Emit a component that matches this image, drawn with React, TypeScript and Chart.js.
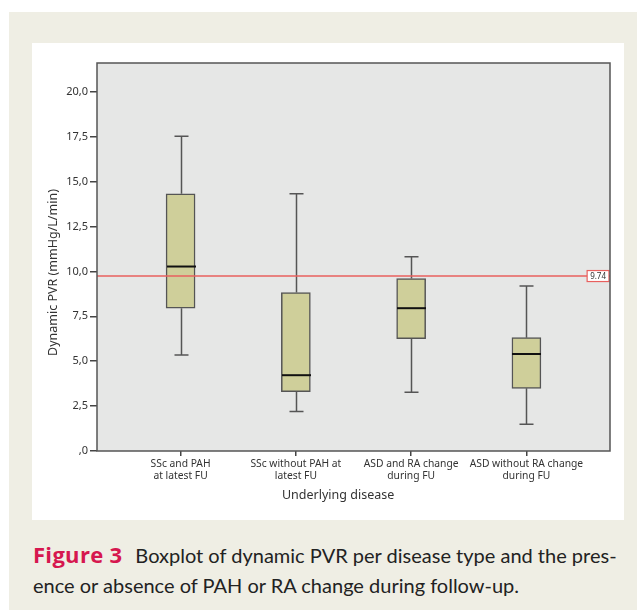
import React, { useEffect, useRef } from 'react';
import { Chart, registerables } from 'chart.js';

Chart.register(...registerables);

// ---- data ----
const categories: string[][] = [
  ['SSc and PAH', 'at latest FU'],
  ['SSc without PAH at', 'latest FU'],
  ['ASD and RA change', 'during FU'],
  ['ASD without RA change', 'during FU'],
];
const positions = [1, 2, 3, 4];
const whiskerLow = [5.35, 2.2, 3.27, 1.49];
const q1 = [7.95, 3.3, 6.26, 3.49];
const median = [10.27, 4.22, 7.95, 5.4];
const q3 = [14.32, 8.82, 9.6, 6.31];
const whiskerHigh = [17.52, 14.32, 10.82, 9.19];
const yTickValues = [0, 2.5, 5, 7.5, 10, 12.5, 15, 17.5, 20];
const referenceValue = 9.74;
const referenceLabel = '9.74';
const xTitle = 'Underlying disease';
const yTitle = 'Dynamic PVR (mmHg/L/min)';

const FONT = "'Noto Sans', sans-serif";
const TEXT = '#333333';

const extrasPlugin = {
  id: 'boxExtras',
  beforeDraw(chart: any) {
    const { ctx, chartArea: a } = chart;
    ctx.save();
    ctx.fillStyle = '#e6e7e6';
    ctx.fillRect(a.left, a.top, a.right - a.left, a.bottom - a.top);
    ctx.restore();
  },
  afterDatasetsDraw(chart: any) {
    const { ctx } = chart;
    const xs = chart.scales.x;
    const ys = chart.scales.y;
    const half = 14.5;
    const cap = 7;
    ctx.save();
    ctx.lineCap = 'butt';
    for (let i = 0; i < positions.length; i++) {
      const x = Math.round(xs.getPixelForValue(positions[i])) + 0.5;
      const yLo = ys.getPixelForValue(whiskerLow[i]);
      const yQ1 = ys.getPixelForValue(q1[i]);
      const yQ3 = ys.getPixelForValue(q3[i]);
      const yHi = ys.getPixelForValue(whiskerHigh[i]);
      const yMed = ys.getPixelForValue(median[i]);
      ctx.strokeStyle = '#555555';
      ctx.lineWidth = 1.5;
      ctx.beginPath();
      ctx.moveTo(x, yQ3);
      ctx.lineTo(x, yHi);
      ctx.moveTo(x - cap, yHi);
      ctx.lineTo(x + cap, yHi);
      ctx.moveTo(x, yQ1);
      ctx.lineTo(x, yLo);
      ctx.moveTo(x - cap, yLo);
      ctx.lineTo(x + cap, yLo);
      ctx.stroke();
      ctx.strokeStyle = '#111111';
      ctx.lineWidth = 2;
      ctx.beginPath();
      ctx.moveTo(x - half, yMed);
      ctx.lineTo(x + half, yMed);
      ctx.stroke();
    }
    // reference line
    const a = chart.chartArea;
    const yr = ys.getPixelForValue(referenceValue);
    ctx.strokeStyle = '#e8605e';
    ctx.lineWidth = 1.5;
    ctx.beginPath();
    ctx.moveTo(a.left, yr);
    ctx.lineTo(a.right, yr);
    ctx.stroke();
    // label
    ctx.font = `8px ${FONT}`;
    const tw = ctx.measureText(referenceLabel).width;
    const bw = tw + 6;
    const bh = 11;
    const bx = a.right - bw - 1;
    const by = yr - bh / 2;
    ctx.fillStyle = '#ffffff';
    ctx.fillRect(bx, by, bw, bh);
    ctx.strokeStyle = '#e8605e';
    ctx.lineWidth = 1.2;
    ctx.strokeRect(bx, by, bw, bh);
    ctx.fillStyle = '#333333';
    ctx.textAlign = 'center';
    ctx.textBaseline = 'middle';
    ctx.fillText(referenceLabel, bx + bw / 2, yr + 0.5);
    ctx.restore();
  },
  afterDraw(chart: any) {
    const { ctx, chartArea: a } = chart;
    ctx.save();
    ctx.strokeStyle = '#555555';
    ctx.lineWidth = 1.5;
    ctx.strokeRect(a.left, a.top, a.right - a.left, a.bottom - a.top);
    ctx.fillStyle = TEXT;
    ctx.font = `12.5px ${FONT}`;
    ctx.textAlign = 'center';
    ctx.textBaseline = 'middle';
    ctx.fillText(xTitle, a.left + (a.right - a.left) * 0.47, a.bottom + 44);
    ctx.translate(21.5, a.top + (a.bottom - a.top) * 0.54);
    ctx.rotate(-Math.PI / 2);
    ctx.fillText(yTitle, 0, 0);
    ctx.restore();
  },
};

function BoxChart() {
  const ref = useRef<HTMLCanvasElement | null>(null);
  useEffect(() => {
    if (!ref.current) return;
    const chart = new Chart(ref.current, {
      type: 'bar',
      data: {
        datasets: [
          {
            data: positions.map((p, i) => ({ x: p, y: [q1[i], q3[i]] })) as any,
            backgroundColor: '#cfcf9a',
            borderColor: '#555555',
            borderWidth: 1.5,
            borderSkipped: false,
            barThickness: 29,
          },
        ],
      },
      options: {
        animation: false,
        responsive: false,
        layout: { padding: { left: 0, top: 20, right: 14, bottom: 0 } },
        plugins: { legend: { display: false }, tooltip: { enabled: false } },
        scales: {
          x: {
            type: 'linear',
            min: 0.275,
            max: 4.725,
            offset: false,
            grid: { drawOnChartArea: false, drawTicks: true, tickLength: 5, color: '#444444', offset: false, lineWidth: 1.5 },
            border: { display: false },
            afterBuildTicks: (s: any) => {
              s.ticks = positions.map((v) => ({ value: v }));
            },
            afterFit: (s: any) => {
              s.height = 69;
            },
            ticks: {
              autoSkip: false,
              maxRotation: 0,
              padding: 2,
              color: TEXT,
              font: { family: FONT, size: 10.3, lineHeight: 1.17 },
              callback: (v: any) => {
                const i = positions.indexOf(Number(v));
                return i >= 0 ? categories[i] : '';
              },
            },
          },
          y: {
            type: 'linear',
            min: 0,
            max: 21.6,
            grid: { drawOnChartArea: false, drawTicks: true, tickLength: 7, color: '#444444', lineWidth: 1.5 },
            border: { display: false },
            afterBuildTicks: (s: any) => {
              s.ticks = yTickValues.map((v) => ({ value: v }));
            },
            afterFit: (s: any) => {
              s.width = 65;
            },
            ticks: {
              padding: 2,
              color: TEXT,
              font: { family: FONT, size: 11 },
              callback: (v: any) => {
                const n = Number(v);
                return n === 0 ? ',0' : n.toFixed(1).replace('.', ',');
              },
            },
          },
        },
      } as any,
      plugins: [extrasPlugin],
    });
    return () => chart.destroy();
  }, []);
  return <canvas ref={ref} width={592} height={477} style={{ display: 'block' }} />;
}

export default function App() {
  const lineStyle: React.CSSProperties = {
    position: 'absolute',
    left: 33,
    height: 31,
    lineHeight: '31px',
    whiteSpace: 'nowrap',
    fontFamily: "Lato, 'Noto Sans', sans-serif",
    fontSize: 20,
    color: '#222222',
  };
  return (
    <div style={{ position: 'absolute', left: 0, top: 0, width: 637, height: 610, background: '#ffffff', overflow: 'hidden' }}>
      <div style={{ position: 'absolute', left: 9, top: 12, width: 628, height: 598, background: '#efeee4' }} />
      <div style={{ position: 'absolute', left: 32, top: 43, width: 592, height: 477, background: '#ffffff' }}>
        <BoxChart />
      </div>
      <div style={{ ...lineStyle, top: 539 }}>
        <span
          style={{
            color: '#d6174f',
            fontWeight: 'bold',
            fontFamily: "'Open Sans', sans-serif",
            fontSize: 22,
            letterSpacing: 0.3,
            marginRight: 13,
          }}
        >
          Figure 3
        </span>
        <span>Boxplot of dynamic PVR per disease type and the pres-</span>
      </div>
      <div style={{ ...lineStyle, top: 570 }}>ence or absence of PAH or RA change during follow-up.</div>
    </div>
  );
}
